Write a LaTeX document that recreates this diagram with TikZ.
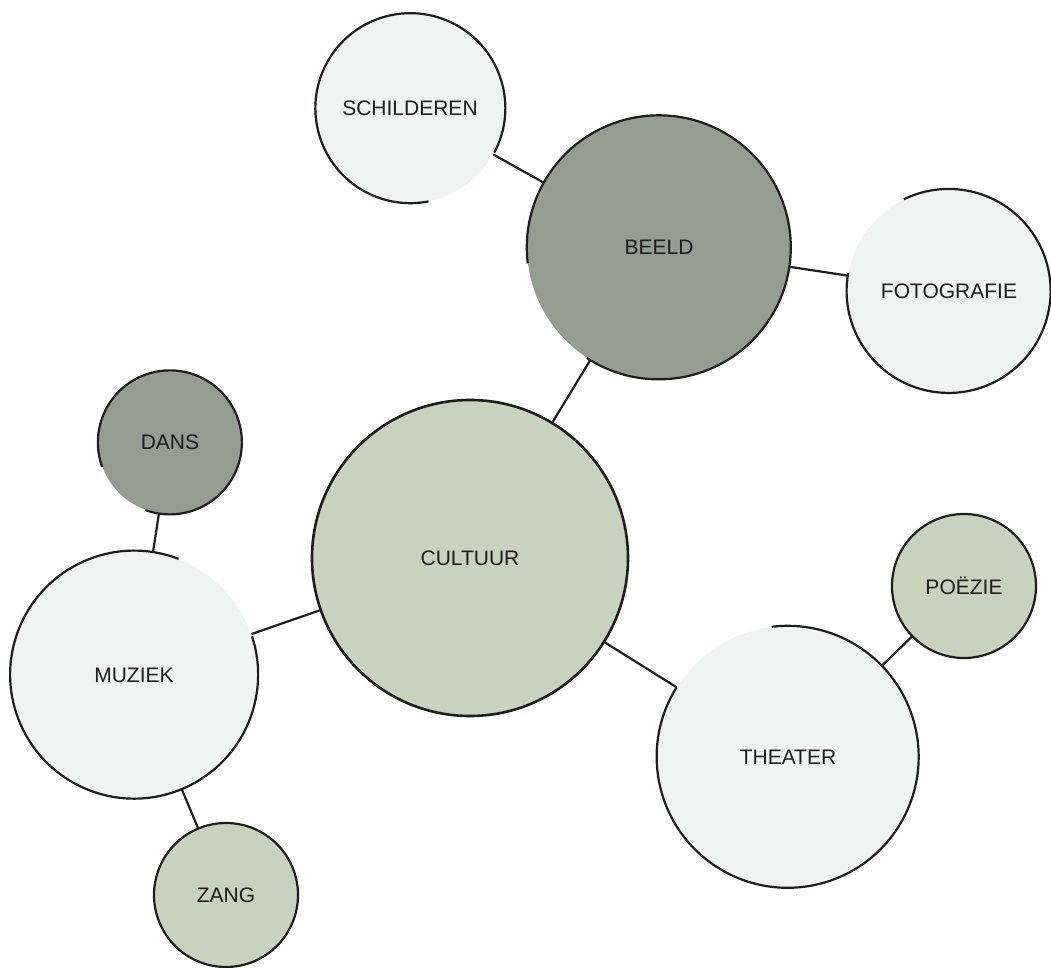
\documentclass[tikz,border=0pt]{standalone}
\usepackage{fontspec}
\setmainfont{Liberation Sans}
\definecolor{lightfill}{RGB}{239,243,241}
\definecolor{darkfill}{RGB}{149,156,144}
\definecolor{greenfill}{RGB}{199,211,188}
\definecolor{ink}{RGB}{30,28,28}
\begin{document}
\begin{tikzpicture}[x=0.5pt,y=-0.5pt]
	\tikzset{bubble/.style = {shape=circle, inner sep=0pt, text=ink, font=\fontsize{10.5}{12}\selectfont},
		light/.style = {bubble, fill=lightfill},
		dark/.style = {bubble, fill=darkfill},
		green/.style = {bubble, fill=greenfill, draw=ink, line width=1.1pt},
		rim/.style = {draw=ink, line width=1.1pt},
		link/.style = {draw=ink, line width=1.1pt}}

	\useasboundingbox (0,0) rectangle (1051,968);

	% minimum size in pt = radius in px
	\node[light, minimum size=95pt] (schilderen) at (410,108) {SCHILDEREN};
	\node[dark, minimum size=132pt] (beeld) at (659,247) {BEELD};
	\node[light, minimum size=102pt] (fotografie) at (949,291) {FOTOGRAFIE};
	\node[green, minimum size=158pt, line width=1.3pt] (cultuur) at (470,558) {CULTUUR};
	\node[dark, minimum size=72pt] (dans) at (170,442) {DANS};
	\node[light, minimum size=124pt] (muziek) at (134,675) {MUZIEK};
	\node[green, minimum size=72pt] (zang) at (226,895) {ZANG};
	\node[light, minimum size=131pt] (theater) at (788,757) {THEATER};
	\node[green, minimum size=72pt] (poezie) at (964,586) {POËZIE};

	% open outlines
	\draw[rim] (schilderen.-28) arc[start angle=-28, end angle=281, radius=47.5pt];
	\draw[rim] (beeld.237) arc[start angle=237, end angle=547, radius=66pt];
	\draw[rim] (fotografie.170) arc[start angle=170, end angle=476, radius=51pt];
	\draw[rim] (dans.250) arc[start angle=250, end angle=560, radius=36pt];
	\draw[rim] (muziek.69) arc[start angle=69, end angle=378, radius=62pt];
	\draw[rim] (theater.148) arc[start angle=148, end angle=457, radius=65.5pt];

	\draw[link] (schilderen)--(beeld);
	\draw[link] (beeld)--(fotografie);
	\draw[link] (beeld)--(cultuur);
	\draw[link] (cultuur)--(muziek);
	\draw[link] (muziek)--(dans);
	\draw[link] (muziek)--(zang);
	\draw[link] (cultuur)--(theater);
	\draw[link] (theater)--(poezie);

\end{tikzpicture}
\end{document}
